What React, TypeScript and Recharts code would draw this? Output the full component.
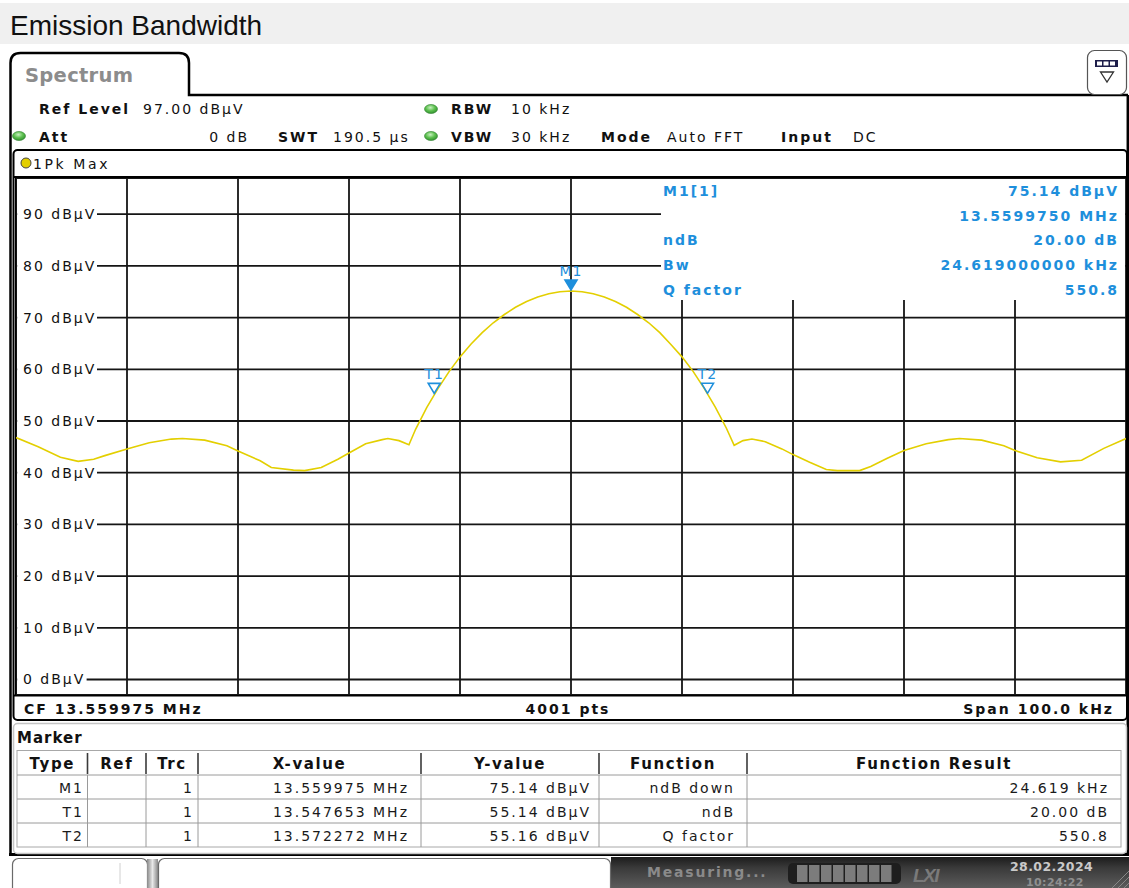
import React from 'react';
import { LineChart, Line, XAxis, YAxis, CartesianGrid, ReferenceDot } from 'recharts';

// ---------- data ----------
const freqOffsetKHz = [
  -50, -48, -46, -44.4, -43, -42, -40, -38, -36, -35, -33, -31, -30, -28, -27, -25, -24, -22.5, -21, -20,
  -18.5, -17, -16.5, -15.5, -14.6, -14, -13, -12, -11, -10, -9, -8, -7, -6, -5, -4, -3, -2, -1, 0,
  1, 2, 3, 4, 5, 6, 7, 8, 9, 10, 11, 12, 13, 14, 14.7, 15.5, 16.3, 17.5, 19, 20,
  21.5, 23, 24, 26, 27, 28.5, 30, 32, 34, 35, 37, 39, 40, 42, 44.1, 46, 48, 50,
];
const levelDbuV = [
  46.8, 45.0, 43.0, 42.2, 42.6, 43.3, 44.6, 45.8, 46.5, 46.6, 46.3, 45.2, 44.2, 42.3, 41.0, 40.5, 40.4, 41.0, 42.6, 43.8,
  45.6, 46.4, 46.6, 46.2, 45.4, 48.4, 52.6, 56.2, 59.5, 62.4, 64.9, 67.1, 69.0, 70.6, 72.0, 73.1, 74.0, 74.6, 75.0, 75.14,
  75.0, 74.6, 74.0, 73.1, 72.0, 70.6, 69.0, 67.1, 64.8, 62.4, 59.6, 56.3, 52.7, 48.6, 45.3, 46.2, 46.5, 46.0, 44.6, 43.5,
  42.0, 40.6, 40.4, 40.4, 41.2, 42.8, 44.3, 45.6, 46.4, 46.6, 46.3, 45.2, 44.3, 42.9, 42.1, 42.4, 44.7, 46.6,
];
const yTickValues = [0, 10, 20, 30, 40, 50, 60, 70, 80, 90];
const xTickValues = [-50, -40, -30, -20, -10, 0, 10, 20, 30, 40, 50];

const markerNames = ['M1', 'T1', 'T2'];
const markerOffsetsKHz = [0, -12.322, 12.297];
const markerLevels = [75.14, 55.14, 55.16];

const infoLabels = ['M1[1]', '', 'ndB', 'Bw', 'Q factor'];
const infoValues = ['75.14 dBµV', '13.5599750 MHz', '20.00 dB', '24.619000000 kHz', '550.8'];

const tblHeaders = ['Type', 'Ref', 'Trc', 'X-value', 'Y-value', 'Function', 'Function Result'];
const tblType = ['M1', 'T1', 'T2'];
const tblRef = ['', '', ''];
const tblTrc = ['1', '1', '1'];
const tblX = ['13.559975 MHz', '13.547653 MHz', '13.572272 MHz'];
const tblY = ['75.14 dBµV', '55.14 dBµV', '55.16 dBµV'];
const tblFunc = ['ndB down', 'ndB', 'Q factor'];
const tblResult = ['24.619 kHz', '20.00 dB', '550.8'];

// ---------- styling ----------
const FONT = '"DejaVu Sans", Verdana, sans-serif';
const BLUE = '#1e8fdc';
const TRACE = '#e3cf00';
const GRID = '#151515';

const chartData = freqOffsetKHz.map((f, i) => ({ f, v: levelDbuV[i] }));

type TProps = {
  x: number; y: number; children: React.ReactNode; bold?: boolean; anchor?: 'start' | 'middle' | 'end';
  fill?: string; size?: number; ls?: number; family?: string; italic?: boolean;
};
const T = ({ x, y, children, bold, anchor = 'start', fill = '#111', size = 14, ls = 2, family = FONT, italic }: TProps) => (
  <text x={x} y={y} textAnchor={anchor} fontFamily={family} fontSize={size} fontWeight={bold ? 'bold' : 'normal'}
    fontStyle={italic ? 'italic' : 'normal'} letterSpacing={ls} fill={fill}>{children}</text>
);

function YTick(props: any) {
  const { y, payload } = props;
  const label = `${payload.value} dBµV`;
  const w = 7 + label.length * 10.4;
  return (
    <g>
      <rect x={1.2} y={y - 8} width={w} height={16} fill="#fff" />
      <text x={7} y={y + 5} fontFamily={FONT} fontSize={14} letterSpacing={2} fill="#111">{label}</text>
    </g>
  );
}

function makeMarkerShape(name: string, filled: boolean) {
  return (p: any) => {
    const { cx, cy } = p;
    if (cx == null || cy == null) return <g />;
    return (
      <g>
        <polygon points={`${cx - 6},${cy - 11} ${cx + 6},${cy - 11} ${cx},${cy - 1}`}
          fill={filled ? BLUE : 'none'} stroke={BLUE} strokeWidth={1.6} />
        <text x={cx} y={cy - 15} textAnchor="middle" fontFamily={FONT} fontSize={14} letterSpacing={1} fill={BLUE}>{name}</text>
      </g>
    );
  };
}

const Led = ({ cx, cy }: { cx: number; cy: number }) => (
  <ellipse cx={cx} cy={cy} rx={6.5} ry={4.5} fill="url(#led)" stroke="#2f7f2f" strokeWidth={0.6} />
);

const header1 = [
  { x: 39, t: 'Ref Level', b: true }, { x: 143, t: '97.00 dBµV' },
  { x: 451, t: 'RBW', b: true }, { x: 511, t: '10 kHz' },
];
const header2 = [
  { x: 39, t: 'Att', b: true }, { x: 278, t: 'SWT', b: true }, { x: 333, t: '190.5 µs' },
  { x: 451, t: 'VBW', b: true }, { x: 511, t: '30 kHz' }, { x: 601, t: 'Mode', b: true },
  { x: 667, t: 'Auto FFT' }, { x: 781, t: 'Input', b: true }, { x: 853, t: 'DC' },
];

const colEdges = [17, 87.5, 146, 198, 421, 599, 747, 1121];
const colRight = [84, null, 194, 409, 591, 735, 1109];
const rowTop = 775;
const rowH = 24;

export default function App() {
  const rows = tblType.map((t, i) => [t, tblRef[i], tblTrc[i], tblX[i], tblY[i], tblFunc[i], tblResult[i]]);
  return (
    <div style={{ position: 'absolute', left: 0, top: 0, width: 1129, height: 888, background: '#fff', overflow: 'hidden' }}>
      {/* background UI */}
      <svg width={1129} height={888} style={{ position: 'absolute', left: 0, top: 0 }}>
        <defs>
          <radialGradient id="led" cx="45%" cy="35%" r="70%">
            <stop offset="0%" stopColor="#c8f0c0" />
            <stop offset="50%" stopColor="#5cc04e" />
            <stop offset="100%" stopColor="#2c8a2c" />
          </radialGradient>
          <linearGradient id="dark" x1="0" y1="0" x2="0" y2="1">
            <stop offset="0%" stopColor="#1c1c1c" />
            <stop offset="35%" stopColor="#3a3a3a" />
            <stop offset="100%" stopColor="#5c5c5c" />
          </linearGradient>
          <linearGradient id="conn" x1="0" y1="0" x2="1" y2="0">
            <stop offset="0%" stopColor="#888" />
            <stop offset="50%" stopColor="#e8e8e8" />
            <stop offset="100%" stopColor="#888" />
          </linearGradient>
        </defs>
        <rect x={0} y={0} width={1129} height={888} fill="#fff" />
        {/* title bar */}
        <rect x={0} y={3} width={1129} height={41} fill="#f0f0f0" />
        <T x={10} y={35} size={28} ls={0} family='"Liberation Sans", Arial, sans-serif'>Emission Bandwidth</T>

        {/* outer frame with tab */}
        <path d="M10.5 856 V63 Q10.5 53 20.5 53 H179 Q189 53 189 63 V95 H1128" fill="none" stroke="#000" strokeWidth={2.5} />
        <line x1={1127.8} y1={95} x2={1127.8} y2={856} stroke="#000" strokeWidth={2.5} />
        <line x1={9} y1={854.5} x2={1129} y2={854.5} stroke="#000" strokeWidth={3} />
        <T x={25} y={82} size={19.5} bold ls={0.3} fill="#8c8c8c">Spectrum</T>

        {/* top-right icon */}
        <rect x={1087.5} y={50.5} width={39} height={44} rx={7} fill="#fff" stroke="#555" strokeWidth={1.2} />
        <rect x={1095} y={60} width={23} height={7} fill="#1d1d4a" />
        <rect x={1097} y={61.5} width={5} height={4} fill="#fff" />
        <rect x={1103.5} y={61.5} width={5} height={4} fill="#fff" />
        <rect x={1110} y={61.5} width={5} height={4} fill="#fff" />
        <polygon points="1100.5,72 1113.5,72 1107,82" fill="none" stroke="#333" strokeWidth={1.3} />

        {/* header info rows */}
        {header1.map((h, i) => <T key={'h1' + i} x={h.x} y={114} bold={h.b}>{h.t}</T>)}
        {header2.map((h, i) => <T key={'h2' + i} x={h.x} y={141.5} bold={h.b}>{h.t}</T>)}
        <T x={249} y={141.5} anchor="end">0 dB</T>
        <Led cx={19} cy={136} />
        <Led cx={431} cy={109} />
        <Led cx={431} cy={136} />

        {/* trace panel */}
        <rect x={13.5} y={150} width={1113.5} height={570} rx={4} fill="#fff" stroke="#000" strokeWidth={2} />
        <line x1={13} y1={177} x2={1127} y2={177} stroke="#000" strokeWidth={2} />
        <line x1={16} y1={177} x2={16} y2={695} stroke="#000" strokeWidth={2} />
        <line x1={13} y1={695.5} x2={1127} y2={695.5} stroke="#000" strokeWidth={2} />
        <circle cx={26} cy={163} r={5} fill={TRACE} stroke="#444" strokeWidth={1} />
        <T x={33} y={168.5} ls={2.6}>1Pk Max</T>
        <T x={24} y={714} bold>CF 13.559975 MHz</T>
        <T x={568} y={714} bold anchor="middle">4001 pts</T>
        <T x={1114} y={714} bold anchor="end">Span 100.0 kHz</T>

        {/* marker panel */}
        <rect x={13.5} y={723.5} width={1113} height={130} rx={4} fill="#fff" stroke="#c4c4c4" strokeWidth={1.5} />
        <T x={17} y={743} bold size={15} ls={1}>Marker</T>
        <rect x={colEdges[0]} y={750.5} width={colEdges[7] - colEdges[0]} height={96.5} fill="#fff" stroke="#a8a8a8" strokeWidth={1} />
        {[0, 1, 2].map((r) => (
          <line key={'rl' + r} x1={colEdges[0]} x2={colEdges[7]} y1={rowTop + r * rowH} y2={rowTop + r * rowH} stroke="#9a9a9a" strokeWidth={1} />
        ))}
        {colEdges.slice(1, 7).map((cx, i) => (
          <g key={'cs' + i}>
            <line x1={cx} x2={cx} y1={753} y2={774} stroke="#3a3a3a" strokeWidth={1.6} />
            <line x1={cx} x2={cx} y1={rowTop} y2={rowTop + 3 * rowH} stroke="#9a9a9a" strokeWidth={1} />
          </g>
        ))}
        {tblHeaders.map((h, i) => (
          <T key={'th' + i} x={(colEdges[i] + colEdges[i + 1]) / 2} y={769} bold size={15} ls={1.6} anchor="middle">{h}</T>
        ))}
        {rows.map((row, r) => row.map((cell, c) => (
          colRight[c] == null || cell === '' ? null :
            <T key={`c${r}-${c}`} x={colRight[c] as number} y={793 + r * rowH} anchor="end" fill="#1a1a1a">{cell}</T>
        )))}

        {/* status bar */}
        <rect x={611} y={857} width={518} height={31} fill="url(#dark)" />
        <rect x={12.5} y={858.5} width={135} height={40} rx={6} fill="#fff" stroke="#6a6a6a" strokeWidth={1.2} />
        <line x1={120} y1={863} x2={120} y2={884} stroke="#d0d0d0" strokeWidth={1} />
        <rect x={147} y={859} width={11} height={29} fill="url(#conn)" />
        <rect x={158.5} y={858.5} width={452} height={40} rx={6} fill="#fff" stroke="#6a6a6a" strokeWidth={1.2} />
        <T x={647} y={877} bold ls={1.8} fill="#8a8a8a">Measuring...</T>
        <rect x={788} y={863} width={113} height={21} rx={5} fill="#1e1e1e" />
        {[0, 1, 2, 3, 4, 5, 6, 7].map((k) => (
          <rect key={'pb' + k} x={797 + k * 12} y={865} width={10.5} height={17} fill="#7c7c7c" />
        ))}
        <T x={913} y={882} bold italic size={19} ls={-1.5} fill="#7a7a7a" family='"Liberation Sans", Arial, sans-serif'>LXI</T>
        <T x={1010} y={871} bold size={12.5} ls={0.4} fill="#c9c9c9">28.02.2024</T>
        <T x={1026} y={886} bold size={11} ls={0.4} fill="#8f8f8f">10:24:22</T>
        <line x1={1112} y1={888} x2={1129} y2={871} stroke="#888" strokeWidth={1} />
        <line x1={1118} y1={888} x2={1129} y2={877} stroke="#888" strokeWidth={1} />
        <line x1={1124} y1={888} x2={1129} y2={883} stroke="#888" strokeWidth={1} />
      </svg>

      {/* spectrum chart */}
      <div style={{ position: 'absolute', left: 16, top: 178, width: 1110, height: 517 }}>
        <LineChart width={1110} height={517} data={chartData} margin={{ top: 0, right: 0, bottom: 0, left: 0 }}>
          <CartesianGrid stroke={GRID} strokeWidth={1.8} />
          <XAxis type="number" dataKey="f" domain={[-50, 50]} ticks={xTickValues} hide allowDataOverflow />
          <YAxis type="number" domain={[-3, 97]} ticks={yTickValues} mirror axisLine={false} tickLine={false}
            tick={<YTick />} allowDataOverflow interval={0} />
          <Line type="linear" dataKey="v" stroke={TRACE} strokeWidth={1.6} dot={false} isAnimationActive={false} />
          {markerNames.map((n, i) => (
            <ReferenceDot key={n} x={markerOffsetsKHz[i]} y={markerLevels[i]} ifOverflow="visible"
              shape={makeMarkerShape(n, n === 'M1')} />
          ))}
        </LineChart>
      </div>

      {/* marker result overlay */}
      <svg width={1129} height={888} style={{ position: 'absolute', left: 0, top: 0, pointerEvents: 'none' }}>
        <rect x={661} y={179} width={464} height={121} fill="#fff" />
        {infoLabels.map((l, i) => (
          l ? <T key={'il' + i} x={663} y={196 + i * 24.7} bold fill={BLUE}>{l}</T> : null
        ))}
        {infoValues.map((v, i) => (
          <T key={'iv' + i} x={1119} y={196 + i * 24.7} bold fill={BLUE} anchor="end">{v}</T>
        ))}
      </svg>
    </div>
  );
}
